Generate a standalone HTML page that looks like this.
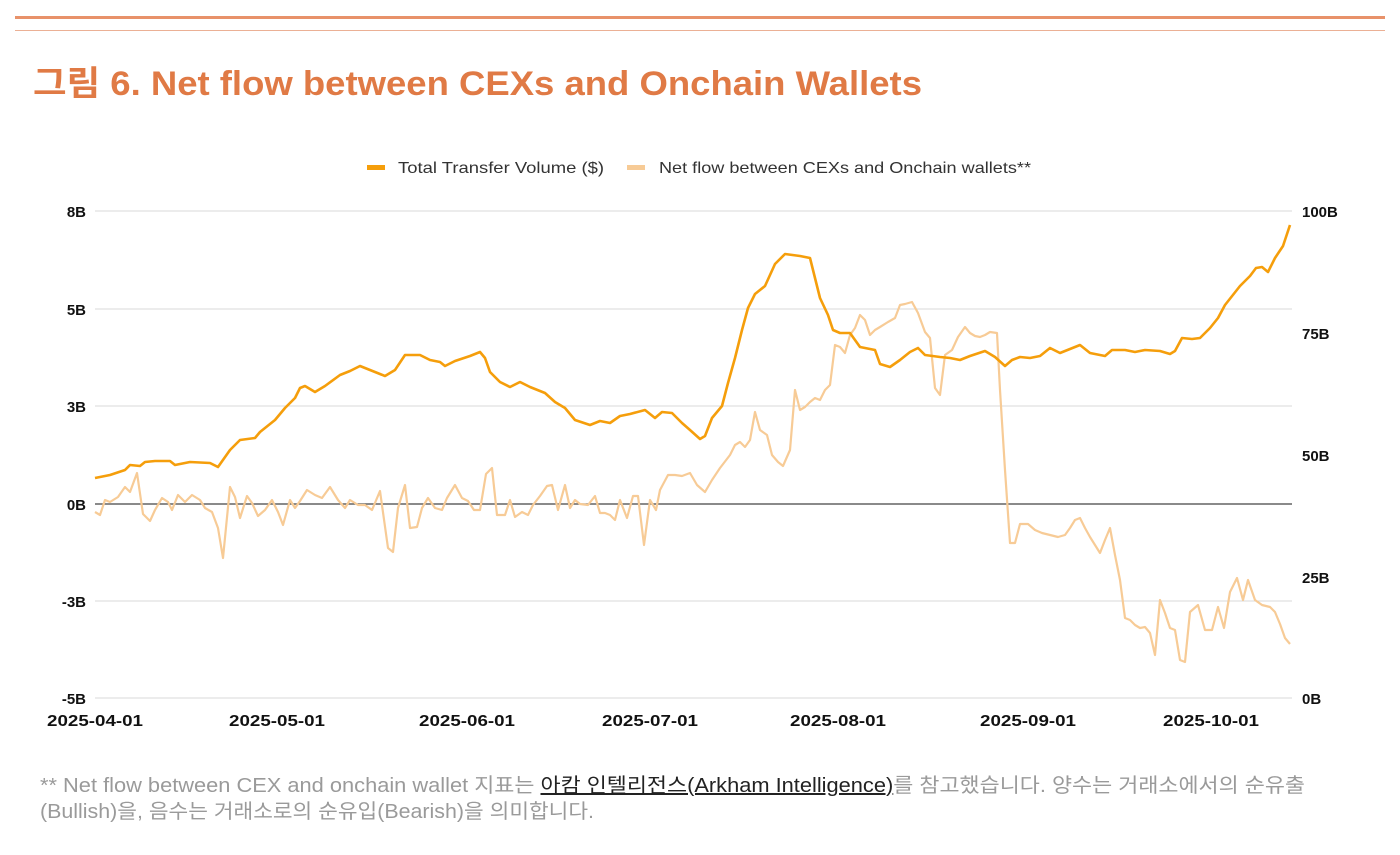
<!DOCTYPE html>
<html><head><meta charset="utf-8"><style>
body{margin:0;background:#fff;width:1400px;height:850px;overflow:hidden;font-family:"Liberation Sans","Noto Sans CJK KR",sans-serif}
svg text{font-family:"Liberation Sans","Noto Sans CJK KR",sans-serif}
</style></head><body>
<svg width="1400" height="850" xmlns="http://www.w3.org/2000/svg">
<rect x="15" y="16" width="1370" height="3" fill="#E8926A"/>
<rect x="15" y="30" width="1370" height="1" fill="#EBB095"/>
<text x="33" y="95" font-size="34" font-weight="bold" fill="#E07A45" textLength="889" lengthAdjust="spacingAndGlyphs">그림 6. Net flow between CEXs and Onchain Wallets</text>
<rect x="367" y="165" width="18" height="5" fill="#F59E0B"/>
<text x="398" y="173" font-size="16" fill="#333" textLength="206" lengthAdjust="spacingAndGlyphs">Total Transfer Volume ($)</text>
<rect x="627" y="165" width="18" height="5" fill="#F7CB96"/>
<text x="659" y="173" font-size="16" fill="#333" textLength="372" lengthAdjust="spacingAndGlyphs">Net flow between CEXs and Onchain wallets**</text>
<g stroke="#d8d8d8" stroke-width="1">
<line x1="95" x2="1292" y1="211" y2="211"/><line x1="95" x2="1292" y1="309" y2="309"/>
<line x1="95" x2="1292" y1="406" y2="406"/><line x1="95" x2="1292" y1="601" y2="601"/>
<line x1="95" x2="1292" y1="698" y2="698"/></g>
<line x1="95" x2="1292" y1="504" y2="504" stroke="#444" stroke-width="1.2"/>
<g font-size="15" font-weight="bold" fill="#111" text-anchor="end">
<text x="86" y="217">8B</text><text x="86" y="315">5B</text><text x="86" y="412">3B</text>
<text x="86" y="510">0B</text><text x="86" y="607">-3B</text><text x="86" y="704">-5B</text></g>
<g font-size="15" font-weight="bold" fill="#111">
<text x="1302" y="217">100B</text><text x="1302" y="339">75B</text><text x="1302" y="461">50B</text>
<text x="1302" y="583">25B</text><text x="1302" y="704">0B</text></g>
<g font-size="16" font-weight="bold" fill="#111">
<text x="47" y="726" textLength="96" lengthAdjust="spacingAndGlyphs">2025-04-01</text>
<text x="229" y="726" textLength="96" lengthAdjust="spacingAndGlyphs">2025-05-01</text>
<text x="419" y="726" textLength="96" lengthAdjust="spacingAndGlyphs">2025-06-01</text>
<text x="602" y="726" textLength="96" lengthAdjust="spacingAndGlyphs">2025-07-01</text>
<text x="790" y="726" textLength="96" lengthAdjust="spacingAndGlyphs">2025-08-01</text>
<text x="980" y="726" textLength="96" lengthAdjust="spacingAndGlyphs">2025-09-01</text>
<text x="1163" y="726" textLength="96" lengthAdjust="spacingAndGlyphs">2025-10-01</text></g>
<polyline fill="none" stroke="#F7CB96" stroke-width="2.2" stroke-linejoin="round" points="95,512 100,515 105,500 110,502 118,497 125,487 130,492 137,473 143,514 150,521 155,510 162,498 168,502 172,510 178,495 185,502 192,495 200,500 205,508 212,512 218,528 223,558 230,487 235,497 240,518 247,496 252,503 258,516 265,510 272,500 278,512 283,525 290,500 295,508 300,501 307,490 315,495 322,498 330,487 338,500 345,508 350,500 358,505 365,505 372,510 380,491 388,548 393,552 398,508 405,485 410,528 417,527 422,508 428,498 435,508 442,510 447,498 455,485 462,498 468,501 474,510 480,510 486,474 492,468 497,515 505,515 510,500 515,517 522,512 528,515 533,505 540,496 547,486 552,485 558,510 565,485 570,508 575,500 580,504 588,505 595,496 600,513 605,513 610,515 615,520 620,500 627,518 633,496 638,496 644,545 650,500 656,510 660,490 668,475 675,475 682,476 690,473 697,485 705,492 712,480 720,468 730,455 735,445 740,442 745,447 750,440 755,412 760,430 767,435 772,455 778,462 783,466 790,450 795,390 800,410 805,407 810,402 815,398 820,400 825,390 830,385 835,345 840,347 845,353 850,335 855,328 860,315 865,320 870,335 875,330 880,327 888,322 895,318 900,305 905,304 912,302 918,313 925,332 930,338 935,388 940,395 945,355 952,350 958,337 965,327 970,333 975,336 980,337 985,335 990,332 997,333 1000,390 1005,470 1010,543 1015,543 1020,524 1028,524 1035,530 1042,533 1050,535 1058,537 1065,535 1070,528 1075,520 1080,518 1085,528 1090,537 1095,545 1100,553 1105,540 1110,528 1115,555 1120,580 1125,618 1130,620 1135,625 1140,628 1145,627 1150,633 1155,655 1160,600 1165,613 1170,628 1175,630 1180,660 1185,662 1190,612 1198,605 1205,630 1212,630 1218,607 1224,628 1230,592 1237,578 1243,600 1248,580 1255,600 1262,605 1270,607 1275,612 1280,624 1285,638 1290,644"/>
<polyline fill="none" stroke="#F59E0B" stroke-width="2.6" stroke-linejoin="round" points="95,478 110,475 125,470 130,465 140,466 145,462 155,461 170,461 175,465 190,462 210,463 218,467 230,450 240,440 255,438 260,432 275,420 285,408 295,398 300,388 305,386 315,392 325,386 340,375 350,371 360,366 365,368 375,372 385,376 395,370 405,355 420,355 430,360 440,362 445,366 455,361 470,356 480,352 485,358 490,372 500,382 510,387 520,382 530,387 545,393 555,402 565,408 575,420 590,425 600,421 610,423 620,416 630,414 645,410 655,418 662,412 672,413 682,423 690,430 700,439 705,436 712,418 722,406 728,383 735,358 742,330 748,308 755,294 765,286 775,264 785,254 800,256 810,258 820,298 828,315 833,330 840,333 850,333 860,347 875,350 880,364 890,367 900,360 910,352 918,348 925,355 940,357 950,358 960,360 970,356 985,351 995,357 1005,366 1012,360 1020,357 1030,358 1040,356 1050,348 1060,353 1070,349 1080,345 1090,353 1105,356 1112,350 1125,350 1135,352 1145,350 1160,351 1170,354 1175,351 1182,338 1192,339 1200,338 1210,328 1218,318 1225,305 1240,286 1250,276 1256,268 1262,267 1268,272 1275,258 1283,246 1290,225"/>
<g font-size="20" fill="#9a9a9a">
<text x="40" y="792" textLength="1265" lengthAdjust="spacingAndGlyphs">** Net flow between CEX and onchain wallet 지표는 <tspan fill="#222" text-decoration="underline">아캄 인텔리전스(Arkham Intelligence)</tspan>를 참고했습니다. 양수는 거래소에서의 순유출</text>
<text x="40" y="818" textLength="554" lengthAdjust="spacingAndGlyphs">(Bullish)을, 음수는 거래소로의 순유입(Bearish)을 의미합니다.</text>
</g>
</svg>
</body></html>
